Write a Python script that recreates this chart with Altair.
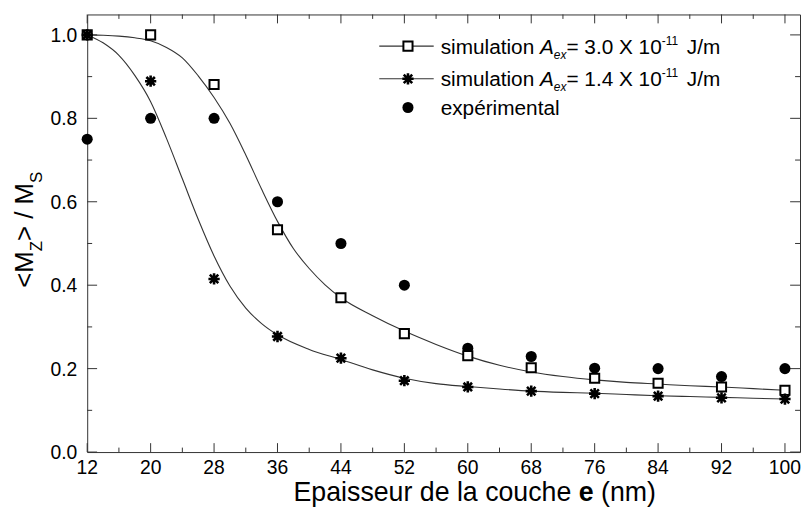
import altair as alt
import pandas as pd

# ---------------- data ----------------
thickness = [12, 20, 28, 36, 44, 52, 60, 68, 76, 84, 92, 100]
sim_a30 = [1.0, 1.0, 0.881, 0.533, 0.370, 0.284, 0.231, 0.202, 0.177, 0.165, 0.156, 0.148]
sim_a14 = [1.0, 0.889, 0.415, 0.277, 0.225, 0.171, 0.156, 0.146, 0.140, 0.134, 0.130, 0.127]
experimental = [0.75, 0.80, 0.80, 0.60, 0.50, 0.40, 0.249, 0.229, 0.201, 0.200, 0.181, 0.200]

fit_a30_x = [12, 14, 16, 18, 20, 22, 24, 26, 28, 30, 32, 34, 36, 38, 40, 42, 44, 48, 52,
             56, 60, 64, 68, 72, 76, 80, 84, 88, 92, 96, 100]
fit_a30_y = [1.0, 0.999, 0.997, 0.993, 0.986, 0.970, 0.945, 0.902, 0.850, 0.788, 0.712,
             0.630, 0.553, 0.488, 0.440, 0.401, 0.370, 0.327, 0.290, 0.258, 0.230, 0.208,
             0.192, 0.181, 0.173, 0.167, 0.163, 0.159, 0.156, 0.152, 0.148]
fit_a14_x = [12, 14, 16, 18, 20, 22, 24, 26, 28, 30, 32, 34, 36, 40, 44, 48, 52, 56, 60,
             64, 68, 72, 76, 80, 84, 88, 92, 96, 100]
fit_a14_y = [1.0, 0.981, 0.951, 0.903, 0.840, 0.752, 0.655, 0.558, 0.470, 0.398, 0.345,
             0.308, 0.281, 0.246, 0.222, 0.197, 0.177, 0.164, 0.157, 0.151, 0.146, 0.143,
             0.141, 0.138, 0.135, 0.133, 0.131, 0.129, 0.127]

x_major = [12, 20, 28, 36, 44, 52, 60, 68, 76, 84, 92, 100]
x_minor = [16, 24, 32, 40, 48, 56, 64, 72, 80, 88, 96]
y_major = [0.0, 0.2, 0.4, 0.6, 0.8, 1.0]
y_minor = [0.1, 0.3, 0.5, 0.7, 0.9]

label_a30 = ["simulation ", "A", "ex", "= 3.0 X 10", "-11", "J/m"]
label_a14 = ["simulation ", "A", "ex", "= 1.4 X 10", "-11", "J/m"]
label_exp = "expérimental"
x_title = ["Epaisseur de la couche", "e", "(nm)"]
y_title = ["<M", "Z", "> / M", "S"]

# ---------------- layout ----------------
FONT = "Liberation Sans"
INK = "#000000"
FRAME = "#333333"
W, H = 720, 442
xs = alt.Scale(domain=[12, 101.9], nice=False, zero=False)
ys = alt.Scale(domain=[0, 1.049], nice=False, zero=False)

CW = {' ': .278, 'a': .556, 'c': .5, 'd': .556, 'e': .556, 'h': .556, 'i': .222,
      'l': .222, 'm': .833, 'n': .556, 'o': .556, 'p': .556, 'r': .333, 's': .5,
      't': .278, 'u': .556, 'x': .5, 'A': .667, 'J': .5, 'X': .667, 'M': .833,
      'Z': .611, 'S': .667, 'E': .667, '=': .584, '.': .278, '/': .278, '-': .333,
      '<': .584, '>': .584, '(': .333, ')': .333, 'é': .556}
for d in "0123456789":
    CW[d] = .556


def tw(s, size):
    return sum(CW.get(c, .556) for c in s) * size


one = pd.DataFrame({"k": [0]})


def txt(s, x, y, size, **kw):
    return alt.Chart(one).mark_text(font=FONT, fontSize=size, color=INK,
                                    baseline="alphabetic", **kw).encode(
        x=alt.value(x), y=alt.value(y), text=alt.value(s))


def X(f):
    return alt.X(f, scale=xs, axis=None)


def Y(f):
    return alt.Y(f, scale=ys, axis=None)


layers = []

# fitted curves
fitA = pd.DataFrame({"e": fit_a30_x, "m": fit_a30_y})
fitB = pd.DataFrame({"e": fit_a14_x, "m": fit_a14_y})
for df in (fitA, fitB):
    layers.append(alt.Chart(df).mark_line(color="#333333", strokeWidth=1.1,
                                          interpolate="monotone").encode(
        x=X("e:Q"), y=Y("m:Q")))


# inward ticks on all four sides
def xticks(vals, length):
    df = pd.DataFrame({"t": vals})
    bot = alt.Chart(df).mark_rule(color=FRAME, strokeWidth=1).encode(
        x=X("t:Q"), y=alt.value(H), y2=alt.value(H - length))
    top = alt.Chart(df).mark_rule(color=FRAME, strokeWidth=1).encode(
        x=X("t:Q"), y=alt.value(0), y2=alt.value(length))
    return [bot, top]


def yticks(vals, length):
    df = pd.DataFrame({"t": vals})
    lft = alt.Chart(df).mark_rule(color=FRAME, strokeWidth=1).encode(
        y=Y("t:Q"), x=alt.value(0), x2=alt.value(length))
    rgt = alt.Chart(df).mark_rule(color=FRAME, strokeWidth=1).encode(
        y=Y("t:Q"), x=alt.value(W), x2=alt.value(W - length))
    return [lft, rgt]


layers += xticks(x_major, 9) + xticks(x_minor, 4.5) + yticks(y_major, 10) + yticks(y_minor, 5)

# tick labels
LBF = 19.5
layers.append(alt.Chart(pd.DataFrame({"t": x_major})).mark_text(
    font=FONT, fontSize=LBF, color=INK, align="center", baseline="alphabetic").encode(
    x=X("t:Q"), y=alt.value(H + 22), text=alt.Text("t:Q", format="d")))
layers.append(alt.Chart(pd.DataFrame({"t": y_major})).mark_text(
    font=FONT, fontSize=LBF, color=INK, align="right", baseline="alphabetic", dy=7).encode(
    y=Y("t:Q"), x=alt.value(-10), text=alt.Text("t:Q", format=".1f")))

# data points
pts = pd.DataFrame({"e": thickness, "a30": sim_a30, "a14": sim_a14, "exp": experimental})
STAR = "M-1,0L1,0M0,-1L0,1M-0.75,-0.75L0.75,0.75M-0.75,0.75L0.75,-0.75"
layers.append(alt.Chart(pts).mark_point(shape="circle", filled=True, color=INK,
                                        size=125, opacity=1).encode(
    x=X("e:Q"), y=Y("exp:Q")))
layers.append(alt.Chart(pts).mark_point(shape="square", filled=False, fill="white",
                                        fillOpacity=1, stroke=INK, strokeWidth=2,
                                        size=85, opacity=1).encode(
    x=X("e:Q"), y=Y("a30:Q")))
layers.append(alt.Chart(pts).mark_point(shape=STAR, filled=False, stroke=INK,
                                        strokeWidth=2.6, size=130, opacity=1).encode(
    x=X("e:Q"), y=Y("a14:Q")))

# ---------------- legend ----------------
LX0, LX1, LSYM, LTXT = 295, 350, 324, 357
rows = [32, 65, 94]
LF = 21
SUB = 12


def legend_text(pieces, cy):
    out = []
    base = cy + 7.5
    x = LTXT
    styles = [("normal", 0, LF, 0), ("italic", 0, LF, 0), ("italic", 5, SUB, 0),
              ("normal", 0, LF, 0), ("normal", -9, SUB, 0), ("normal", 0, LF, 8)]
    for p, (st, dy, sz, gap) in zip(pieces, styles):
        x += gap
        out.append(txt(p, x, base + dy, sz, align="left", fontStyle=st))
        x += tw(p, sz)
    return out


for cy in rows[:2]:
    layers.append(alt.Chart(one).mark_rule(color="#333333", strokeWidth=1.1).encode(
        x=alt.value(LX0), x2=alt.value(LX1), y=alt.value(cy)))
layers.append(alt.Chart(one).mark_point(shape="square", filled=False, fill="white",
                                        fillOpacity=1, stroke=INK, strokeWidth=2,
                                        size=85, opacity=1).encode(
    x=alt.value(LSYM), y=alt.value(rows[0])))
layers.append(alt.Chart(one).mark_point(shape=STAR, filled=False, stroke=INK,
                                        strokeWidth=2.6, size=130, opacity=1).encode(
    x=alt.value(LSYM), y=alt.value(rows[1])))
layers.append(alt.Chart(one).mark_point(shape="circle", filled=True, color=INK,
                                        size=125, opacity=1).encode(
    x=alt.value(LSYM), y=alt.value(rows[2])))
layers += legend_text(label_a30, rows[0])
layers += legend_text(label_a14, rows[1])
layers.append(txt(label_exp, LTXT, rows[2] + 7.5, LF, align="left"))

# ---------------- axis titles ----------------
TF = 27
e_cx = 504
xb = 491
layers.append(txt(x_title[0], e_cx - tw("e", TF) / 2 - tw(" ", TF), xb, TF, align="right"))
layers.append(txt(x_title[1], e_cx, xb, TF, align="center", fontWeight="bold"))
layers.append(txt(x_title[2], e_cx + tw("e", TF) / 2 + tw(" ", TF), xb, TF, align="left"))

YF, YS = 26, 17
yy = 276
for i, p in enumerate(y_title):
    sz = YF if i % 2 == 0 else YS
    bx = -55 if i % 2 == 0 else -46
    layers.append(txt(p, bx, yy, sz, align="left", angle=270))
    yy -= tw(p, sz)

chart = alt.layer(*layers).properties(
    width=W, height=H,
    autosize=alt.AutoSizeParams(type="none"),
    padding={"left": 80, "top": 4, "right": 2, "bottom": 56},
    background="white",
).configure_view(stroke=FRAME, strokeWidth=1)

chart.save("out.html", embed_options={"renderer": "svg", "actions": False})
